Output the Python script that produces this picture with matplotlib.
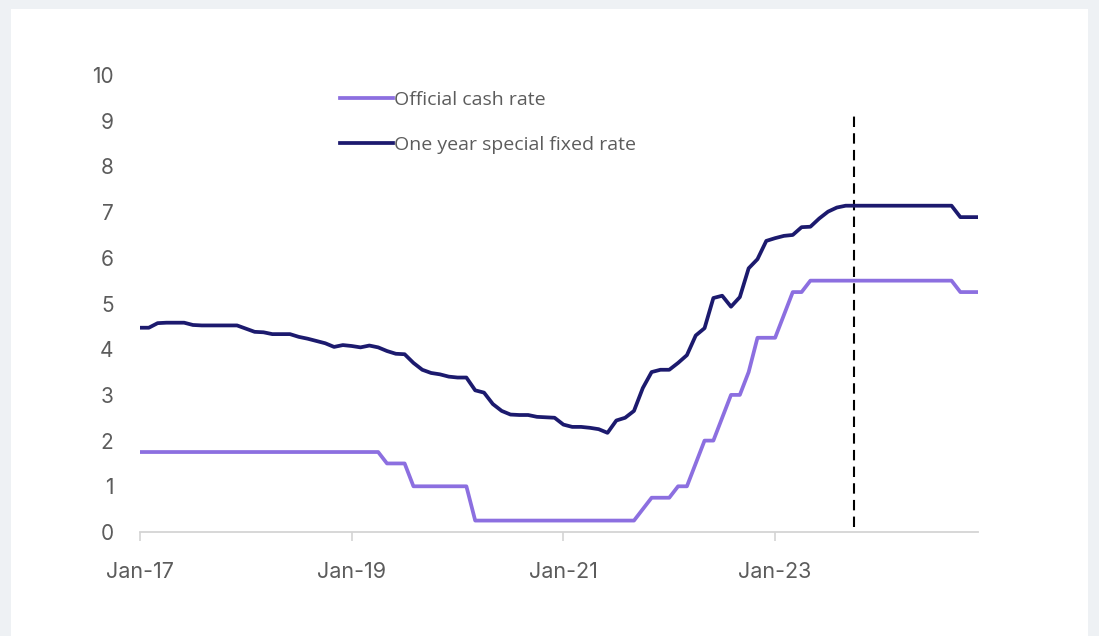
#!/usr/bin/env python

import numpy as np
import matplotlib as mpl
import matplotlib.pyplot as plt
from matplotlib.patches import Rectangle

# Monthly series, Jan-17 (index 0) to Dec-24 (index 95)
months = np.arange(96)

cash_rate = (
    [1.75] * 28
    + [1.5] * 3
    + [1.0] * 7
    + [0.25] * 19
    + [0.5]
    + [0.75] * 3
    + [1.0] * 2
    + [1.5]
    + [2.0] * 2
    + [2.5]
    + [3.0] * 2
    + [3.5]
    + [4.25] * 3
    + [4.75]
    + [5.25] * 2
    + [5.5] * 17
    + [5.25] * 3
)

fixed_rate = [
    4.47, 4.47, 4.57, 4.58, 4.58, 4.58, 4.53, 4.52, 4.52, 4.52, 4.52, 4.52,
    4.45, 4.38, 4.37, 4.33, 4.33, 4.33, 4.27, 4.23, 4.18, 4.13, 4.05, 4.09,
    4.07, 4.04, 4.08, 4.04, 3.96, 3.90, 3.89, 3.70, 3.55, 3.48, 3.45, 3.40,
    3.38, 3.38, 3.10, 3.05, 2.80, 2.65, 2.57, 2.56, 2.56, 2.52, 2.51, 2.50,
    2.35, 2.30, 2.30, 2.28, 2.25, 2.17, 2.44, 2.50, 2.65, 3.15, 3.50, 3.55,
    3.55, 3.70, 3.87, 4.30, 4.46, 5.12, 5.17, 4.93, 5.14, 5.77, 5.97, 6.37,
    6.43, 6.48, 6.50, 6.67, 6.68, 6.86, 7.01, 7.10, 7.14, 7.14, 7.14, 7.14,
    7.14, 7.14, 7.14, 7.14, 7.14, 7.14, 7.14, 7.14, 7.14, 6.89, 6.89, 6.89,
]

tick_pos = [0, 24, 48, 72]
tick_labels = ['Jan-17', 'Jan-19', 'Jan-21', 'Jan-23']
event_month = 80.9

purple = '#8c6fe0'
navy = '#1c1a6e'
grey_text = '#5c5c5c'

mpl.rc('font', family=['Inter', 'DejaVu Sans'])


def main() -> None:

    fig = plt.figure(figsize=(10.99, 6.36), dpi=100)
    fig.patch.set_facecolor('#eef1f4')

    # white card behind the chart
    fig.add_artist(Rectangle(
        (11 / 1099, 0),
        (1088 - 11) / 1099,
        1 - 9 / 636,
        transform=fig.transFigure,
        facecolor='white',
        edgecolor='none',
        zorder=-10,
    ))

    ax = fig.add_axes([140 / 1099, 1 - 532 / 636, 838 / 1099, 457 / 636])
    ax.set_facecolor('none')
    ax.set_zorder(5)

    ax.plot(
        months,
        cash_rate,
        lw=2.7,
        color=purple,
        label='Official cash rate',
        zorder=3,
    )

    ax.plot(
        months,
        fixed_rate,
        lw=2.7,
        color=navy,
        label='One year special fixed rate',
        zorder=3,
    )

    ax.vlines(
        event_month,
        0.1,
        9.2,
        colors='black',
        lw=1.5,
        linestyles=(0, (5, 3)),
        zorder=2,
    )

    ax.set_xlim(0, 95)
    ax.set_ylim(0, 10)

    ax.set_xticks(tick_pos)
    ax.set_xticklabels(tick_labels)
    ax.set_yticks(range(0, 11))

    for side in ('top', 'right', 'left'):
        ax.spines[side].set_visible(False)
    ax.spines['bottom'].set_color('#d4d4d4')
    ax.spines['bottom'].set_linewidth(1.3)

    ax.tick_params(
        axis='x',
        direction='out',
        length=6.5,
        width=1.2,
        color='#d4d4d4',
        labelsize=15.5,
        labelcolor=grey_text,
        pad=15,
    )
    ax.tick_params(
        axis='y',
        length=0,
        labelsize=15,
        labelcolor=grey_text,
        pad=19,
    )

    leg = ax.legend(
        loc='upper left',
        bbox_to_anchor=(182 / 838, 1 + 2 / 457),
        frameon=False,
        handlelength=2.75,
        handletextpad=0.05,
        labelspacing=1.4,
        prop={'family': ['Open Sans', 'DejaVu Sans'], 'size': 14},
    )
    for txt in leg.get_texts():
        txt.set_color(grey_text)

    fig.savefig('out.png', dpi=100, facecolor=fig.get_facecolor())

    return


if __name__ == '__main__':
    main()
